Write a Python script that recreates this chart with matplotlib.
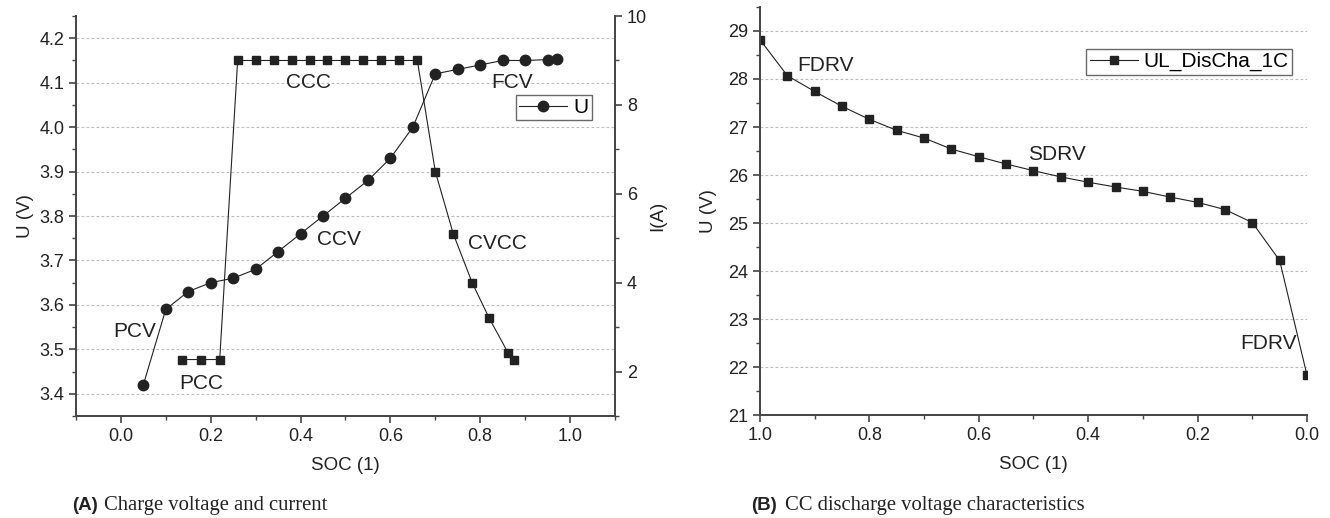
import matplotlib
matplotlib.use("Agg")
import matplotlib.pyplot as plt
from matplotlib.ticker import MultipleLocator

plt.rcParams["font.family"] = ["Liberation Sans", "DejaVu Sans"]

# --- (A) charge voltage and current ---
soc_u = [0.05, 0.10, 0.15, 0.20, 0.25, 0.30, 0.35, 0.40, 0.45, 0.50,
         0.55, 0.60, 0.65, 0.70, 0.75, 0.80, 0.85, 0.90, 0.95, 0.97]
u_charge = [3.42, 3.59, 3.63, 3.65, 3.66, 3.68, 3.72, 3.76, 3.80, 3.84,
            3.88, 3.93, 4.00, 4.12, 4.13, 4.14, 4.15, 4.15, 4.152, 4.153]

soc_i = [0.135, 0.178, 0.22, 0.26, 0.30, 0.34, 0.38, 0.42, 0.46, 0.50,
         0.54, 0.58, 0.62, 0.66, 0.70, 0.74, 0.782, 0.82, 0.862, 0.876]
i_charge = [2.27, 2.27, 2.27, 9.0, 9.0, 9.0, 9.0, 9.0, 9.0, 9.0,
            9.0, 9.0, 9.0, 9.0, 6.5, 5.1, 4.0, 3.2, 2.42, 2.27]

# --- (B) CC discharge ---
soc_d = [1.00, 0.95, 0.90, 0.85, 0.80, 0.75, 0.70, 0.65, 0.60, 0.55, 0.50,
         0.45, 0.40, 0.35, 0.30, 0.25, 0.20, 0.15, 0.10, 0.05, 0.00]
u_dis = [28.82, 28.07, 27.74, 27.43, 27.16, 26.93, 26.77, 26.54, 26.38, 26.23, 26.09,
         25.96, 25.85, 25.75, 25.66, 25.54, 25.43, 25.28, 25.01, 24.22, 21.83]

INK = "#222222"
AX = "#444444"
GRID = "#bbbbbb"

fig = plt.figure(figsize=(13.3, 5.18), dpi=100)


def style_axis(ax):
    ax.spines["top"].set_visible(False)
    for s in ["left", "bottom", "right"]:
        ax.spines[s].set_color(AX)
        ax.spines[s].set_linewidth(1.4)
    ax.tick_params(which="major", direction="out", length=5, width=1.2,
                   color=AX, labelsize=13, labelcolor=INK)
    ax.tick_params(which="minor", direction="out", length=3, width=1.0, color=AX)


# ─── panel A ───
ax1 = fig.add_axes([0.0571, 0.197, 0.4053, 0.772])
ax1.plot(soc_u, u_charge, "-o", color=INK, lw=0.8, ms=7.5, label="U")
ax1.set_xlim(-0.1, 1.1)
ax1.set_ylim(3.35, 4.25)
ax1.xaxis.set_major_locator(MultipleLocator(0.2))
ax1.xaxis.set_minor_locator(MultipleLocator(0.1))
ax1.yaxis.set_minor_locator(MultipleLocator(0.05))
ax1.set_yticks([3.4, 3.5, 3.6, 3.7, 3.8, 3.9, 4.0, 4.1, 4.2])
ax1.grid(axis="y", which="major", linestyle=(0, (2.5, 2)), color=GRID, lw=0.8)
style_axis(ax1)
ax1.spines["right"].set_visible(False)
ax1.set_xlabel("SOC (1)", fontsize=13.5, color=INK, labelpad=9)
ax1.set_ylabel("U (V)", fontsize=13.5, color=INK, labelpad=4)

ax2 = ax1.twinx()
ax2.plot(soc_i, i_charge, "-s", color=INK, lw=0.8, ms=5.5)
ax2.set_ylim(1, 10)
ax2.yaxis.set_major_locator(MultipleLocator(2))
ax2.yaxis.set_minor_locator(MultipleLocator(1))
style_axis(ax2)
ax2.spines["left"].set_visible(False)
ax2.spines["bottom"].set_visible(False)
ax2.set_ylabel("I(A)", fontsize=13.5, color=INK, labelpad=2)

leg = ax1.legend(loc="upper right", bbox_to_anchor=(0.957, 0.8025), fontsize=15,
                 frameon=True, fancybox=False, handlelength=2.3,
                 borderpad=0.15, handletextpad=0.3, borderaxespad=0)
leg.get_frame().set_edgecolor(AX)
leg.get_frame().set_linewidth(1.0)

tkw = dict(fontsize=15, color=INK, ha="center", va="center")
ax1.text(0.418, 4.10, "CCC", **tkw)
ax1.text(0.871, 4.10, "FCV", **tkw)
ax1.text(0.485, 3.747, "CCV", **tkw)
ax1.text(0.838, 3.737, "CVCC", **tkw)
ax1.text(0.031, 3.54, "PCV", **tkw)
ax1.text(0.18, 3.423, "PCC", **tkw)

fig.text(0.054, 0.016, "(A)", fontsize=13.5, fontweight="bold", color=INK)
fig.text(0.0785, 0.016, "Charge voltage and current", fontsize=14.9,
         family="Liberation Serif", color=INK)

# ─── panel B ───
ax3 = fig.add_axes([0.5714, 0.1988, 0.4113, 0.7877])
ax3.plot(soc_d, u_dis, "-s", color=INK, lw=0.8, ms=6, label="UL_DisCha_1C")
ax3.set_xlim(1.0, 0.0)
ax3.set_ylim(21, 29.5)
ax3.xaxis.set_major_locator(MultipleLocator(0.2))
ax3.xaxis.set_minor_locator(MultipleLocator(0.1))
ax3.yaxis.set_major_locator(MultipleLocator(1))
ax3.yaxis.set_minor_locator(MultipleLocator(0.5))
ax3.grid(axis="y", which="major", linestyle=(0, (2.5, 2)), color=GRID, lw=0.8)
style_axis(ax3)
ax3.spines["right"].set_visible(False)
ax3.set_xlabel("SOC (1)", fontsize=13.5, color=INK, labelpad=9)
ax3.set_ylabel("U (V)", fontsize=13.5, color=INK, labelpad=8)

leg2 = ax3.legend(loc="upper right", bbox_to_anchor=(0.9726, 0.897), fontsize=15,
                  frameon=True, fancybox=False, handlelength=2.3,
                  borderpad=0.15, handletextpad=0.3, borderaxespad=0)
leg2.get_frame().set_edgecolor(AX)
leg2.get_frame().set_linewidth(1.0)

ax3.text(0.881, 28.29, "FDRV", **tkw)
ax3.text(0.457, 26.42, "SDRV", **tkw)
ax3.text(0.07, 22.48, "FDRV", **tkw)

fig.text(0.5645, 0.016, "(B)", fontsize=13.5, fontweight="bold", color=INK)
fig.text(0.590, 0.016, "CC discharge voltage characteristics", fontsize=14.9,
         family="Liberation Serif", color=INK)

fig.savefig("out.png", dpi=100, facecolor="white")
